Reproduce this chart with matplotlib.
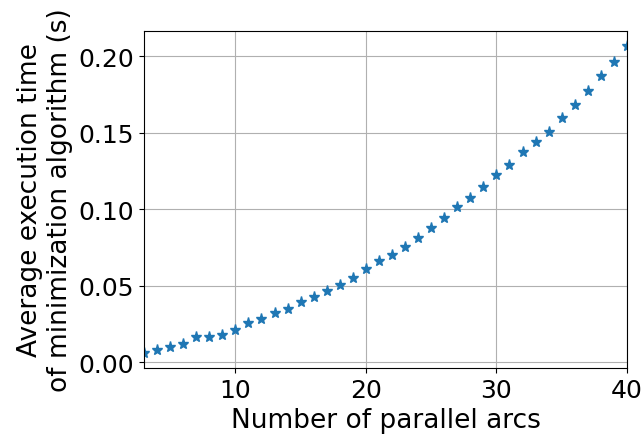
import numpy as np
import matplotlib
matplotlib.use("Agg")
import matplotlib.pyplot as plt

n_arcs = list(range(3, 41))
avg_time = [0.0063, 0.0081, 0.0098, 0.0122, 0.0163, 0.0166, 0.0179, 0.0211,
            0.0258, 0.0285, 0.0320, 0.0348, 0.0392, 0.0429, 0.0464, 0.0505,
            0.0553, 0.0610, 0.0660, 0.0702, 0.0753, 0.0814, 0.0877, 0.0940,
            0.1012, 0.1071, 0.1149, 0.1225, 0.1290, 0.1373, 0.1441, 0.1508,
            0.1597, 0.1680, 0.1772, 0.1871, 0.1961, 0.2065]

plt.rcParams['font.size'] = 18

fig = plt.figure(figsize=(6.42, 4.39), dpi=100)
ax = fig.add_axes([0.2243, 0.1595, 0.7523, 0.7675])

ax.plot(n_arcs, avg_time, '*', color='tab:blue', markersize=8)
ax.set_xlim(3, 40)
ax.set_xticks([10, 20, 30, 40])
ax.set_yticks([0.0, 0.05, 0.10, 0.15, 0.20])
ax.grid(True)
ax.set_xlabel("Number of parallel arcs", fontsize=19)
ax.set_ylabel("Average execution time\nof minimization algorithm (s)", fontsize=19)

plt.savefig("out.png", dpi=100)
